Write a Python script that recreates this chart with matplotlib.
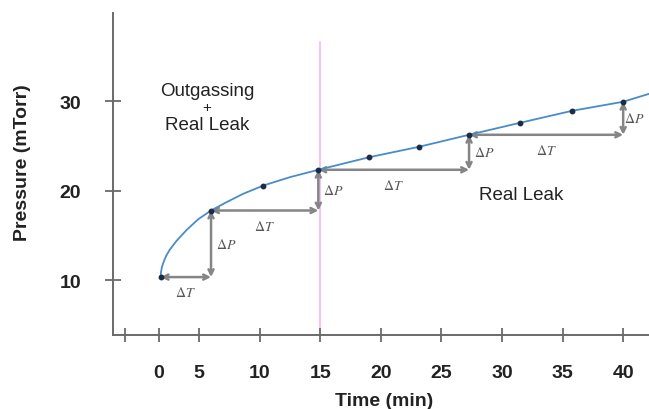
import matplotlib.pyplot as plt

plt.rcParams['font.family'] = ['Liberation Sans', 'DejaVu Sans']
plt.rcParams['mathtext.fontset'] = 'stix'

curve_t = [1.85, 1.87, 1.95, 2.1, 2.3, 2.6, 3.17, 3.99, 4.95, 6.0, 7.29, 8.66, 10.31, 12.52,
           14.85, 19.03, 23.16, 27.28, 31.49, 35.78, 39.99, 42.13]
curve_p = [10.38, 10.9, 11.5, 12.1, 12.75, 13.45, 14.45, 15.65, 16.85, 17.82, 18.76, 19.69, 20.61, 21.55,
           22.37, 23.77, 24.94, 26.28, 27.62, 28.96, 29.97, 30.86]

# measured points
pts_t = [1.85, 6.0, 10.31, 14.85, 19.03, 23.16, 27.28, 31.49, 35.78, 39.99]
pts_p = [10.38, 17.82, 20.61, 22.37, 23.77, 24.94, 26.28, 27.62, 28.96, 29.97]

# points used for the dT / dP staircase
step_idx = [0, 1, 3, 6, 9]

# x ticks (the "0" tick sits a bit off in the original sketch)
xtick_pos = [-1.1, 1.7, 5, 10, 15, 20, 25, 30, 35, 40]
xtick_lab = ['', '0', '5', '10', '15', '20', '25', '30', '35', '40']
ytick_pos = [10, 20, 30]

t_split = 14.98

fig = plt.figure(figsize=(6.49, 4.10), dpi=100)
ax = fig.add_axes([0.174, 0.1805, 0.826, 0.7854])

ax.set_xlim(-2.09, 42.12)
ax.set_ylim(3.91, 39.89)

# separator line
ax.plot([t_split, t_split], [3.91, 36.67], color='#f5b8f5', lw=1.2, zorder=1)

# staircase arrows
arr = dict(arrowstyle='<->', color='#858585', lw=1.8, shrinkA=0, shrinkB=0,
           mutation_scale=9)
for a, b in zip(step_idx[:-1], step_idx[1:]):
    t0, p0 = pts_t[a], pts_p[a]
    t1, p1 = pts_t[b], pts_p[b]
    ax.annotate('', xy=(t1, p0), xytext=(t0, p0), arrowprops=arr, zorder=2)
    ax.annotate('', xy=(t1, p1), xytext=(t1, p0), arrowprops=arr, zorder=2)
    ax.annotate(r'$\Delta T$', xy=((t0 + t1) / 2, p0), xytext=(0, -11),
                textcoords='offset points', ha='center', va='center',
                fontsize=10, color='#555555')
    dx = 8 if b == step_idx[-1] else 11
    ax.annotate(r'$\Delta P$', xy=(t1, (p0 + p1) / 2), xytext=(dx, 0),
                textcoords='offset points', ha='center', va='center',
                fontsize=10, color='#555555')

ax.plot(curve_t, curve_p, color='#4a8cc6', lw=1.3, zorder=3)
ax.plot(pts_t, pts_p, 'o', color='#1b2b48', ms=3.2, zorder=4)

ax.text(5.67, 31.2, 'Outgassing', ha='center', va='center', fontsize=13.5, color='#222222')
ax.text(5.67, 29.4, '+', ha='center', va='center', fontsize=11, color='#222222')
ax.text(5.67, 27.4, 'Real Leak', ha='center', va='center', fontsize=13.5, color='#222222')
ax.text(31.6, 19.6, 'Real Leak', ha='center', va='center', fontsize=13.5, color='#222222')

for s in ['top', 'right']:
    ax.spines[s].set_visible(False)
for s in ['left', 'bottom']:
    ax.spines[s].set_color('#6a6a6a')
    ax.spines[s].set_linewidth(1.4)

ax.set_xticks(xtick_pos)
ax.set_xticklabels(xtick_lab)
ax.set_yticks(ytick_pos)
ax.tick_params(axis='x', direction='inout', length=10, width=1.3, color='#6a6a6a',
               pad=16, labelsize=14, labelcolor='#222222')
ax.tick_params(axis='y', direction='inout', length=12, width=1.3, color='#6a6a6a',
               pad=17, labelsize=14, labelcolor='#222222')
for lab in ax.get_xticklabels() + ax.get_yticklabels():
    lab.set_fontweight('bold')

fig.text(384 / 649, 1 - 402 / 410, 'Time (min)', ha='center', va='center',
         fontsize=14, fontweight='bold', color='#222222')
fig.text(23 / 649, 1 - 163 / 410, 'Pressure (mTorr)', ha='center', va='center',
         rotation=90, fontsize=14, fontweight='bold', color='#222222')

fig.savefig('out.png', dpi=100)
